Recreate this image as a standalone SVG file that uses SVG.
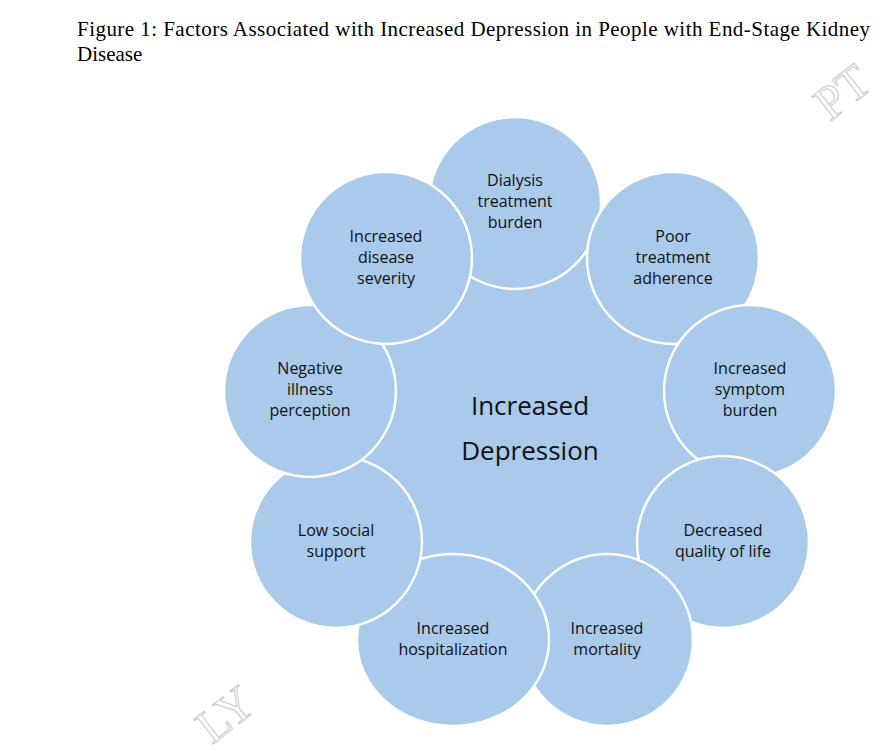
<svg xmlns="http://www.w3.org/2000/svg" width="885" height="752" viewBox="0 0 885 752">
<style>
.n{fill:#a9caeb;stroke:#fff;stroke-width:2.5}
.t{font-family:"Open Sans","Liberation Sans",sans-serif;font-size:16px;fill:#111;text-anchor:middle}
.c{font-family:"Open Sans","Liberation Sans",sans-serif;font-size:26px;fill:#111;text-anchor:middle}
.h{font-family:"Liberation Serif",serif;font-size:21px;fill:#000}
.w{font-family:"Liberation Serif",serif;font-size:48px;fill:none;stroke:#d0d0d0;stroke-width:1.2}
</style>
<rect width="885" height="752" fill="#fff"/>
<text class="h" x="77" y="36" textLength="793" lengthAdjust="spacing">Figure 1:  Factors Associated with Increased Depression in People with End-Stage Kidney</text>
<text class="h" x="77" y="61">Disease</text>
<text class="w" transform="translate(830,122) rotate(-38)">PT</text>
<text class="w" transform="translate(212,745) rotate(-38)">LY</text>
<g id="center"><circle class="n" cx="530" cy="430" r="190" stroke="none"/>
<text class="c" x="530" y="415">Increased</text><text class="c" x="530" y="460">Depression</text></g>
<g id="n1"><circle class="n" cx="515" cy="203" r="86"/><text class="t" x="515" y="186">Dialysis</text><text class="t" x="515" y="207">treatment</text><text class="t" x="515" y="228">burden</text></g>
<g id="n2"><circle class="n" cx="673" cy="258" r="86"/><text class="t" x="673" y="242">Poor</text><text class="t" x="673" y="263">treatment</text><text class="t" x="673" y="284">adherence</text></g>
<g id="n3"><circle class="n" cx="750" cy="391" r="86"/><text class="t" x="750" y="374">Increased</text><text class="t" x="750" y="395">symptom</text><text class="t" x="750" y="416">burden</text></g>
<g id="n4"><circle class="n" cx="723" cy="542" r="86"/><text class="t" x="723" y="536">Decreased</text><text class="t" x="723" y="557">quality of life</text></g>
<g id="n5"><circle class="n" cx="607" cy="640" r="86"/><text class="t" x="607" y="634">Increased</text><text class="t" x="607" y="655">mortality</text></g>
<g id="n6"><ellipse class="n" cx="453" cy="640" rx="96" ry="86"/><text class="t" x="453" y="634">Increased</text><text class="t" x="453" y="655">hospitalization</text></g>
<g id="n7"><circle class="n" cx="336" cy="542" r="86"/><text class="t" x="336" y="536">Low social</text><text class="t" x="336" y="557">support</text></g>
<g id="n8"><circle class="n" cx="310" cy="391" r="86"/><text class="t" x="310" y="374">Negative</text><text class="t" x="310" y="395">illness</text><text class="t" x="310" y="416">perception</text></g>
<g id="n9"><circle class="n" cx="386" cy="258" r="86"/><text class="t" x="386" y="242">Increased</text><text class="t" x="386" y="263">disease</text><text class="t" x="386" y="284">severity</text></g>
<g id="connectors"/>
</svg>
